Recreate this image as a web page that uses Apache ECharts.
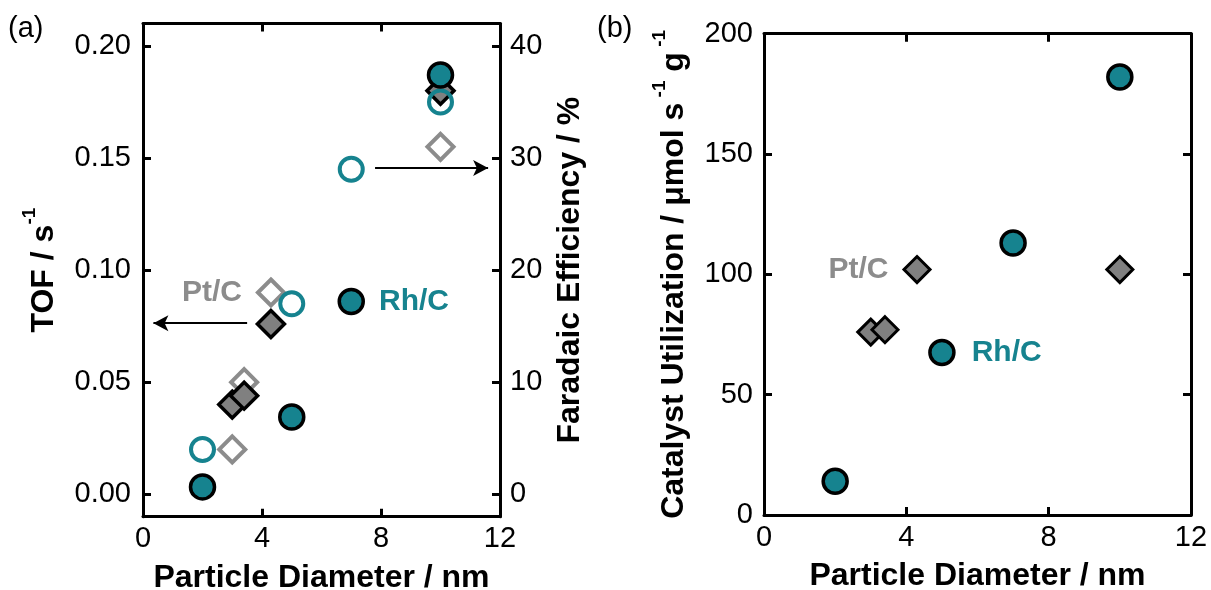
<!DOCTYPE html>
<html>
<head>
<meta charset="utf-8">
<script src="https://cdn.jsdelivr.net/npm/echarts@6/dist/echarts.min.js"></script>
<style>
  html, body { margin: 0; padding: 0; background: #fff; }
  #chart { width: 1211px; height: 590px; }
</style>
</head>
<body>
<div id="chart"></div>
<script>
// Particle diameters (nm)
const rhDiameter = [2, 5, 7, 10];
const ptDiameter = [3, 3.4, 4.3, 10];

// Turnover frequency (s^-1), panel (a) left axis
const rhTOF = [0.0033, 0.0345, 0.086, 0.187];
const ptTOF = [0.040, 0.044, 0.076, 0.180];

// Faradaic efficiency (%), panel (a) right axis
const rhFE = [4, 17, 29, 35];
const ptFE = [4, 10, 18, 31];

// Catalyst utilization (µmol s^-1 g^-1), panel (b)
const rhUtil = [14, 67.5, 113, 182];
const ptUtil = [76, 77, 102, 102];

// Tick values
const diameterTicks = [0, 4, 8, 12];
const tofTicks = [0, 0.05, 0.10, 0.15, 0.20];
const feTicks = [0, 10, 20, 30, 40];
const utilTicks = [0, 50, 100, 150, 200];

// Arrows pointing each data set to its axis (data coordinates)
const arrowToTOF = [[3.5, 0.0763], [0.35, 0.0763]];
const arrowToFE = [[7.8, 29.1], [11.6, 29.1]];

const TEAL = '#16838f';
const GREY = '#808080';
const GREY_LIGHT = '#8c8c8c';
const FONT = 'Liberation Sans, Arial, sans-serif';

const pairs = (xs, ys) => xs.map((x, i) => [x, ys[i]]);

// attach a bold text tag to one point of a series
function tagged(points, index, text, color, position, distance) {
  return points.map((p, i) => i !== index ? p : {
    value: p,
    label: {
      show: true, formatter: text, position: position, distance: distance,
      color: color, fontSize: 30, fontWeight: 'bold', fontFamily: FONT
    }
  });
}

const frameLine = { show: true, onZero: false, lineStyle: { color: '#000', width: 3 } };
const innerTick = (values) => ({
  show: true, inside: true, length: 8, lineStyle: { color: '#000', width: 3 },
  customValues: values
});
const tickLabel = (values, extra) => Object.assign({
  show: true, color: '#000', fontSize: 29, fontFamily: FONT, customValues: values
}, extra || {});
const titleStyle = {
  color: '#000', fontSize: 32, fontWeight: 'bold', fontFamily: FONT
};
const richTitle = {
  color: '#000', fontFamily: FONT,
  rich: {
    t: { fontSize: 32, fontWeight: 'bold', lineHeight: 48, fontFamily: FONT, color: '#000' },
    sup: { fontSize: 19, fontWeight: 'bold', lineHeight: 19, verticalAlign: 'top', fontFamily: FONT, color: '#000' }
  }
};

function xPair(gridIndex) {
  return [{
    gridIndex, type: 'value', position: 'bottom', min: 0, max: 12,
    axisLine: frameLine, axisTick: innerTick(diameterTicks),
    axisLabel: tickLabel(diameterTicks, { margin: 8 }),
    splitLine: { show: false },
    name: 'Particle Diameter / nm', nameLocation: 'middle', nameGap: 45,
    nameTextStyle: titleStyle
  }, {
    gridIndex, type: 'value', position: 'top', min: 0, max: 12,
    axisLine: frameLine, axisTick: innerTick(diameterTicks),
    axisLabel: { show: false }, splitLine: { show: false }
  }];
}

const option = {
  backgroundColor: '#fff',
  animation: false,
  grid: [
    { left: 143, top: 23.5, width: 357, height: 493.2, containLabel: false, outerBoundsMode: 'none' },
    { left: 764, top: 33.7, width: 427, height: 481.3, containLabel: false, outerBoundsMode: 'none' }
  ],
  graphic: [
    { type: 'text', left: 8, top: 14, style: { text: '(a)', fontSize: 29, fontFamily: FONT, fill: '#000' } },
    { type: 'text', left: 597, top: 14, style: { text: '(b)', fontSize: 29, fontFamily: FONT, fill: '#000' } }
  ],
  xAxis: [...xPair(0), ...xPair(1)],
  yAxis: [
    {
      gridIndex: 0, type: 'value', position: 'left', min: -0.01, max: 0.21,
      axisLine: frameLine, axisTick: innerTick(tofTicks),
      axisLabel: tickLabel(tofTicks, { margin: 12, formatter: v => v.toFixed(2) }),
      splitLine: { show: false },
      name: '{t|TOF / s}{sup|-1}', nameLocation: 'middle', nameRotate: 90, nameGap: 75,
      nameTextStyle: richTitle
    },
    {
      gridIndex: 0, type: 'value', position: 'right', min: -2, max: 42,
      axisLine: frameLine, axisTick: innerTick(feTicks),
      axisLabel: tickLabel(feTicks, { margin: 10 }),
      splitLine: { show: false },
      name: 'Faradaic Efficiency / %', nameLocation: 'middle', nameRotate: 90, nameGap: 54,
      nameTextStyle: titleStyle
    },
    {
      gridIndex: 1, type: 'value', position: 'left', min: 0, max: 200,
      axisLine: frameLine, axisTick: innerTick(utilTicks),
      axisLabel: tickLabel(utilTicks, { margin: 11 }),
      splitLine: { show: false },
      name: '{t|Catalyst Utilization / μmol s}{sup| -1}{t| g}{sup| -1}',
      nameLocation: 'middle', nameRotate: 90, nameGap: 66,
      nameTextStyle: richTitle
    },
    {
      gridIndex: 1, type: 'value', position: 'right', min: 0, max: 200,
      axisLine: frameLine, axisTick: innerTick(utilTicks),
      axisLabel: { show: false }, splitLine: { show: false }
    }
  ],
  series: [
    // panel (a): Pt/C Faradaic efficiency (open diamonds)
    {
      name: 'Pt/C FE', type: 'scatter', xAxisIndex: 0, yAxisIndex: 1,
      symbol: 'diamond', symbolSize: 26,
      itemStyle: { color: 'rgba(0,0,0,0)', borderColor: GREY_LIGHT, borderWidth: 4, opacity: 1 },
      data: tagged(pairs(ptDiameter, ptFE), 2, 'Pt/C', GREY_LIGHT, 'left', 14),
      z: 2
    },
    // panel (a): Pt/C TOF (filled diamonds)
    {
      name: 'Pt/C TOF', type: 'scatter', xAxisIndex: 0, yAxisIndex: 0,
      symbol: 'diamond', symbolSize: 27,
      itemStyle: { color: GREY, borderColor: '#000', borderWidth: 3.5, opacity: 1 },
      data: pairs(ptDiameter, ptTOF),
      markLine: {
        silent: true, symbol: ['none', 'arrow'], symbolSize: [12, 15],
        label: { show: false },
        lineStyle: { color: '#000', width: 2, type: 'solid', opacity: 1 },
        data: [[{ coord: arrowToTOF[0] }, { coord: arrowToTOF[1] }]]
      },
      z: 3
    },
    // panel (a): Rh/C Faradaic efficiency (open circles)
    {
      name: 'Rh/C FE', type: 'scatter', xAxisIndex: 0, yAxisIndex: 1,
      symbol: 'circle', symbolSize: 23,
      itemStyle: { color: 'rgba(0,0,0,0)', borderColor: TEAL, borderWidth: 4, opacity: 1 },
      data: pairs(rhDiameter, rhFE),
      markLine: {
        silent: true, symbol: ['none', 'arrow'], symbolSize: [12, 15],
        label: { show: false },
        lineStyle: { color: '#000', width: 2, type: 'solid', opacity: 1 },
        data: [[{ coord: arrowToFE[0] }, { coord: arrowToFE[1] }]]
      },
      z: 4
    },
    // panel (a): Rh/C TOF (filled circles)
    {
      name: 'Rh/C TOF', type: 'scatter', xAxisIndex: 0, yAxisIndex: 0,
      symbol: 'circle', symbolSize: 24,
      itemStyle: { color: TEAL, borderColor: '#000', borderWidth: 3.5, opacity: 1 },
      data: tagged(pairs(rhDiameter, rhTOF), 2, 'Rh/C', TEAL, 'right', 14),
      z: 5
    },
    // panel (b): Pt/C utilization
    {
      name: 'Pt/C utilization', type: 'scatter', xAxisIndex: 2, yAxisIndex: 2,
      symbol: 'diamond', symbolSize: 26,
      itemStyle: { color: GREY, borderColor: '#000', borderWidth: 3, opacity: 1 },
      data: tagged(pairs(ptDiameter, ptUtil), 2, 'Pt/C', GREY_LIGHT, 'left', 14),
      z: 3
    },
    // panel (b): Rh/C utilization
    {
      name: 'Rh/C utilization', type: 'scatter', xAxisIndex: 2, yAxisIndex: 2,
      symbol: 'circle', symbolSize: 24,
      itemStyle: { color: TEAL, borderColor: '#000', borderWidth: 3.5, opacity: 1 },
      data: tagged(pairs(rhDiameter, rhUtil), 1, 'Rh/C', TEAL, 'right', 16),
      z: 4
    }
  ]
};

const chart = echarts.init(document.getElementById('chart'), null, { renderer: 'canvas' });
chart.setOption(option);
</script>
</body>
</html>
